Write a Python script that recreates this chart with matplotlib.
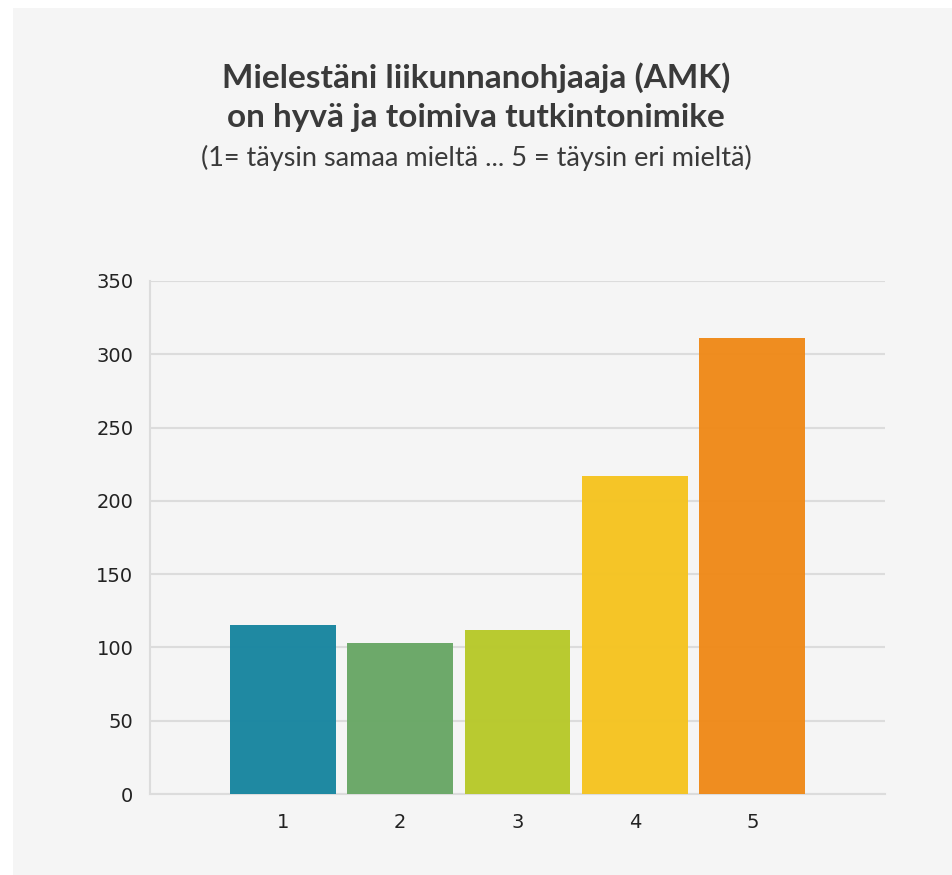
import matplotlib
matplotlib.use("Agg")
import matplotlib.pyplot as plt
from matplotlib.patches import Rectangle

categories = ["1", "2", "3", "4", "5"]
values = [115, 103, 112, 217, 311]
colors = ["#1a87a1", "#6aa867", "#b8c92c", "#f5c423", "#ef8b1b"]
yticks = [0, 50, 100, 150, 200, 250, 300, 350]

fig = plt.figure(figsize=(9.52, 8.75), dpi=100)
fig.patch.set_facecolor("white")
bg = Rectangle((13/952, 0), 1 - 13/952, 1 - 8/875, transform=fig.transFigure,
               facecolor="#f5f5f5", edgecolor="none", zorder=-10)
fig.patches.append(bg)

ax = fig.add_axes([150/952, 1 - 794/875, 735/952, 513/875])
ax.set_facecolor("none")
x = list(range(len(categories)))
ax.bar(x, values, width=0.9, color=colors, alpha=0.98, zorder=3)
ax.set_xlim(-1.13, 4 + 1.13)
ax.set_ylim(0, 350)
ax.set_yticks(yticks)
ax.set_xticks(x)
ax.set_xticklabels(categories)
ax.grid(axis="y", color="#dcdcdc", linewidth=1.5, zorder=1)
ax.set_axisbelow(True)
for s in ["top", "right"]:
    ax.spines[s].set_visible(False)
for s in ["left", "bottom"]:
    ax.spines[s].set_color("#dcdcdc")
    ax.spines[s].set_linewidth(1.5)
ax.tick_params(axis="both", length=0, labelsize=14, colors="#222222", pad=12)
ax.tick_params(axis="x", pad=14)

fig.text(0.5, 1 - 78/875, "Mielestäni liikunnanohjaaja (AMK)", ha="center", va="center",
         fontsize=24, fontweight="bold", color="#3a3a3a", family="Lato")
fig.text(0.5, 1 - 118/875, "on hyvä ja toimiva tutkintonimike", ha="center", va="center",
         fontsize=24, fontweight="bold", color="#3a3a3a", family="Lato")
fig.text(0.5, 1 - 158/875, "(1= täysin samaa mieltä ... 5 = täysin eri mieltä)", ha="center", va="center",
         fontsize=19.5, fontweight="normal", color="#3a3a3a", family="Lato")

fig.savefig("out.png", dpi=100, facecolor=fig.get_facecolor())
